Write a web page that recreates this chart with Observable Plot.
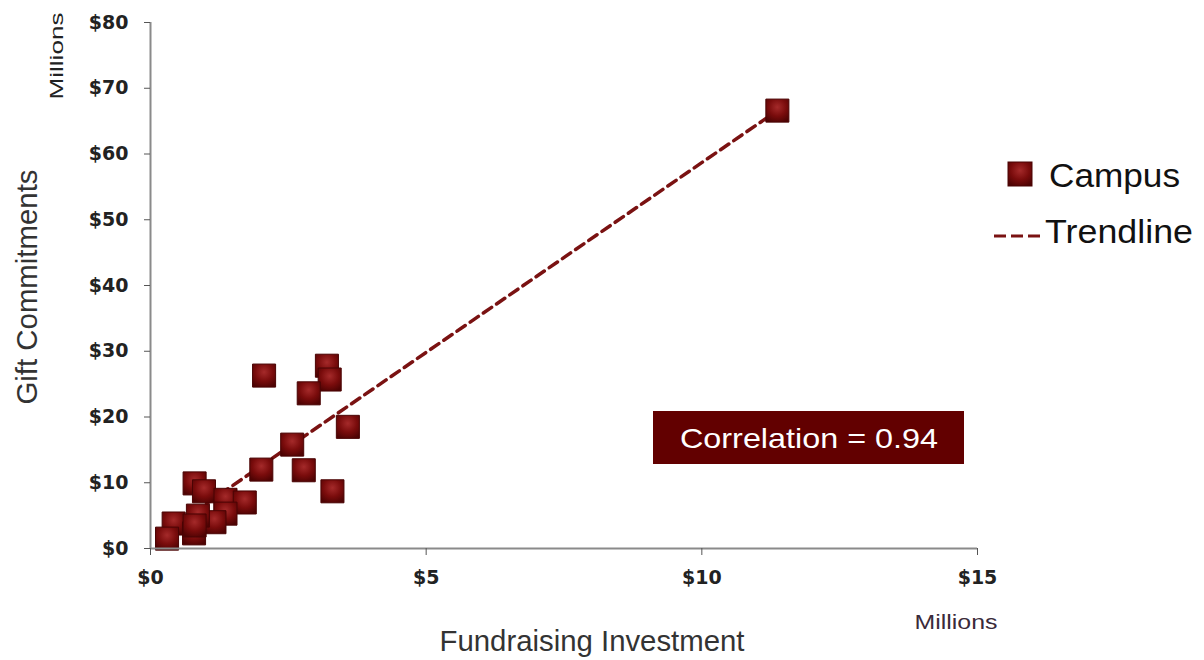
<!DOCTYPE html>
<html>
<head>
<meta charset="utf-8">
<script src="https://cdn.jsdelivr.net/npm/d3@7"></script>
<script src="https://cdn.jsdelivr.net/npm/@observablehq/plot@0.6"></script>
<style>
  html, body { margin: 0; padding: 0; background: #fff; }
  #chart { position: relative; width: 1204px; height: 660px; }
</style>
</head>
<body>
<div id="chart"></div>
<script>
// Fundraising investment ($M) per campus
const investment = [11.37, 2.06, 3.20, 3.25, 2.87, 3.58, 2.57, 2.01, 2.78, 3.30, 0.80, 0.97, 1.36, 1.71, 1.36, 1.16, 0.86, 0.42, 0.79, 0.80, 0.30];
// Gift commitments ($M) per campus
const commitments = [66.6, 26.3, 27.8, 25.7, 23.6, 18.5, 15.8, 12.0, 11.9, 8.7, 9.9, 8.7, 7.4, 7.0, 5.3, 4.0, 5.0, 3.8, 2.3, 3.5, 1.5];
// Trendline endpoints
const trendX = [0.3, 11.37];
const trendY = [2.7, 66.6];
const xTicks = [0, 5, 10, 15];
const yTicks = [0, 10, 20, 30, 40, 50, 60, 70, 80];
const correlationText = "Correlation = 0.94";
const legendLabels = ["Campus", "Trendline"];

const points = investment.map((x, i) => ({x, y: commitments[i]}));
const trend = trendX.map((x, i) => ({x, y: trendY[i]}));

const plot = Plot.plot({
  width: 1204,
  height: 660,
  marginLeft: 150,
  marginRight: 227,
  marginTop: 22,
  marginBottom: 112,
  style: {fontFamily: "'DejaVu Sans', Verdana, sans-serif", background: "#fff"},
  x: {domain: [0, 15]},
  y: {domain: [0, 80]},
  marks: [
    Plot.line(trend, {x: "x", y: "y", stroke: "#7a1212", strokeWidth: 3.5, strokeDasharray: "10,6"}),
    Plot.dot(points, {x: "x", y: "y", symbol: "square", r: 13, fill: "#7a0c0c", stroke: "#4a0404", strokeWidth: 1, className: "campus"}),
    Plot.ruleX([0], {stroke: "#8a8a8a", strokeWidth: 2}),
    Plot.ruleY([0], {stroke: "#8a8a8a", strokeWidth: 2}),
    Plot.axisX({ticks: xTicks, tickSize: 7, tickPadding: 15, tickFormat: d => "$" + d, fontSize: 19, fontWeight: "bold", fill: "#222", stroke: "#555", label: null}),
    Plot.axisY({ticks: yTicks, tickSize: 6, tickPadding: 16, tickFormat: d => "$" + d, fontSize: 19, fontWeight: "bold", fill: "#222", stroke: "#555", label: null})
  ]
});
document.getElementById("chart").appendChild(plot);

const svg = d3.select(plot);
// gradient for bevelled squares
const defs = svg.insert("defs", ":first-child");
const g = defs.append("radialGradient").attr("id", "bevel").attr("cx", "50%").attr("cy", "35%").attr("r", "70%");
g.append("stop").attr("offset", "0%").attr("stop-color", "#a52a2a");
g.append("stop").attr("offset", "55%").attr("stop-color", "#7a0c0c");
g.append("stop").attr("offset", "100%").attr("stop-color", "#4e0303");
svg.selectAll(".campus path").attr("fill", "url(#bevel)");

const font = "'Liberation Sans', Arial, sans-serif";
function label(x, y, txt, size, len, fill, rotate, anchor) {
  const t = svg.append("text")
    .attr("transform", `translate(${x},${y})` + (rotate ? " rotate(-90)" : ""))
    .attr("text-anchor", anchor || "middle")
    .attr("font-family", font).attr("font-size", size).attr("fill", fill)
    .attr("textLength", len).attr("lengthAdjust", "spacingAndGlyphs")
    .text(txt);
  return t;
}
// axis titles
label(37, 287, "Gift Commitments", 29, 235, "#333", true);
label(63, 56, "Millions", 19, 87, "#222", true);
label(592, 651, "Fundraising Investment", 30, 305, "#333", false);
label(956, 629, "Millions", 20, 83, "#3a2a3a", false);

// correlation box
svg.append("rect").attr("x", 653).attr("y", 411).attr("width", 311).attr("height", 53).attr("fill", "#620000");
label(809, 448, correlationText, 28, 258, "#fff", false);

// legend
svg.append("rect").attr("x", 1008).attr("y", 162).attr("width", 24).attr("height", 24).attr("fill", "url(#bevel)").attr("stroke", "#4a0404");
label(1049, 187, legendLabels[0], 33, 131, "#111", false, "start");
svg.append("line").attr("x1", 994).attr("x2", 1040).attr("y1", 236).attr("y2", 236)
  .attr("stroke", "#7a1212").attr("stroke-width", 3).attr("stroke-dasharray", "12,5");
label(1045, 243, legendLabels[1], 33, 148, "#111", false, "start");
</script>
</body>
</html>
